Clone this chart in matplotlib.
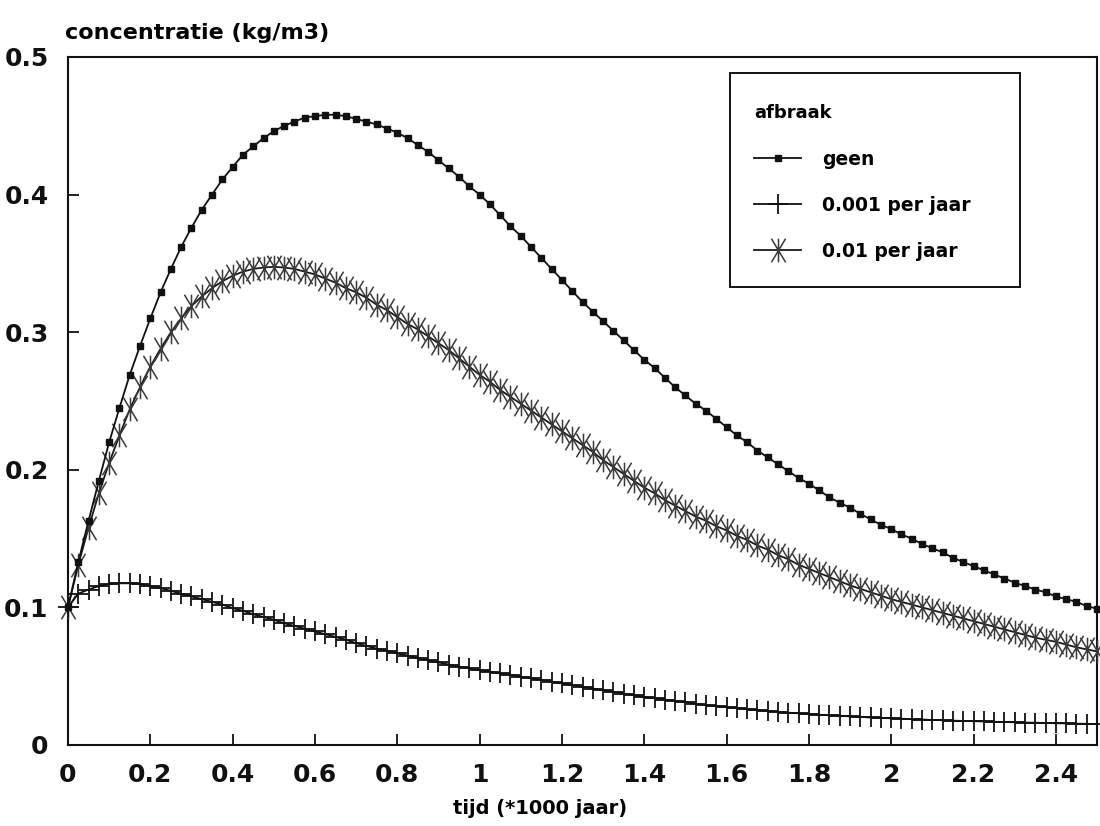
import numpy as np
import matplotlib
matplotlib.use("Agg")
import matplotlib.pyplot as plt
from matplotlib.path import Path
from matplotlib.patches import Rectangle

# tijd in 1000 jaar, stap 0.025
tijd = np.linspace(0, 2.5, 101)

geen = [0.100, 0.133, 0.163, 0.192, 0.220, 0.245, 0.269, 0.290, 0.310, 0.329,
        0.346, 0.362, 0.376, 0.389, 0.400, 0.411, 0.420, 0.429, 0.435, 0.441,
        0.446, 0.450, 0.453, 0.456, 0.457, 0.458, 0.458, 0.457, 0.455, 0.453,
        0.451, 0.448, 0.445, 0.441, 0.436, 0.431, 0.425, 0.419, 0.413, 0.406,
        0.400, 0.393, 0.385, 0.377, 0.370, 0.362, 0.354, 0.346, 0.338, 0.330,
        0.322, 0.315, 0.308, 0.301, 0.294, 0.287, 0.280, 0.274, 0.267, 0.260,
        0.254, 0.248, 0.243, 0.237, 0.231, 0.225, 0.220, 0.214, 0.209, 0.204,
        0.199, 0.194, 0.190, 0.185, 0.180, 0.176, 0.1725, 0.168, 0.164, 0.160,
        0.157, 0.153, 0.150, 0.146, 0.143, 0.140, 0.136, 0.133, 0.130, 0.127,
        0.124, 0.121, 0.118, 0.1155, 0.113, 0.111, 0.108, 0.106, 0.104, 0.101,
        0.099]

jaar_0001 = [0.100, 0.110, 0.113, 0.1155, 0.117, 0.1175, 0.1175, 0.117, 0.1155, 0.114,
             0.112, 0.110, 0.108, 0.106, 0.104, 0.102, 0.0995, 0.0975, 0.095, 0.093,
             0.091, 0.0885, 0.0865, 0.0845, 0.0825, 0.0805, 0.0785, 0.0765, 0.074, 0.072,
             0.070, 0.0685, 0.0665, 0.065, 0.063, 0.0615, 0.060, 0.0585, 0.057, 0.0557,
             0.0545, 0.0533, 0.052, 0.051, 0.0497, 0.0485, 0.0473, 0.046, 0.0448, 0.0435,
             0.0423, 0.041, 0.0398, 0.0386, 0.0374, 0.0362, 0.035, 0.034, 0.033, 0.032,
             0.031, 0.030, 0.029, 0.0282, 0.0274, 0.0267, 0.026, 0.0253, 0.0247, 0.0241,
             0.0235, 0.023, 0.0225, 0.022, 0.0216, 0.0212, 0.0208, 0.0204, 0.020, 0.0197,
             0.0194, 0.0191, 0.0188, 0.0185, 0.0182, 0.018, 0.0177, 0.0175, 0.0173, 0.0171,
             0.0169, 0.0167, 0.0165, 0.0163, 0.0162, 0.016, 0.0158, 0.0157, 0.0155, 0.0154,
             0.0152]

jaar_001 = [0.100, 0.131, 0.158, 0.183, 0.205, 0.225, 0.244, 0.260, 0.275, 0.288,
            0.300, 0.310, 0.319, 0.326, 0.332, 0.337, 0.341, 0.344, 0.346, 0.347,
            0.3475, 0.347, 0.346, 0.344, 0.342, 0.339, 0.336, 0.332, 0.329, 0.325,
            0.320, 0.316, 0.311, 0.306, 0.302, 0.297, 0.292, 0.287, 0.281, 0.275,
            0.269, 0.264, 0.258, 0.253, 0.248, 0.243, 0.238, 0.233, 0.228, 0.223,
            0.218, 0.213, 0.207, 0.202, 0.197, 0.192, 0.187, 0.183, 0.178, 0.174,
            0.170, 0.166, 0.163, 0.159, 0.156, 0.152, 0.149, 0.145, 0.142, 0.138,
            0.135, 0.131, 0.128, 0.125, 0.122, 0.119, 0.116, 0.1135, 0.111, 0.1085,
            0.106, 0.104, 0.102, 0.100, 0.098, 0.096, 0.094, 0.092, 0.090, 0.088,
            0.086, 0.084, 0.082, 0.080, 0.078, 0.0765, 0.075, 0.073, 0.071, 0.0695,
            0.068]

xticks = [0, 0.2, 0.4, 0.6, 0.8, 1.0, 1.2, 1.4, 1.6, 1.8, 2.0, 2.2, 2.4]
xlabels = ['0', '0.2', '0.4', '0.6', '0.8', '1', '1.2', '1.4', '1.6', '1.8', '2', '2.2', '2.4']
yticks = [0, 0.1, 0.2, 0.3, 0.4, 0.5]
ylabels = ['0', '0.1', '0.2', '0.3', '0.4', '0.5']

plt.rcParams['font.family'] = ['DejaVu Sans']
plt.rcParams['font.weight'] = 'bold'

fig = plt.figure(figsize=(11, 8.26), dpi=100)
ax = fig.add_axes([68/1100, 1-745/826, (1097-68)/1100, (745-57)/826])

# asterisk: vertical stroke plus two steep diagonals
ster = Path([(0, -1), (0, 1), (-0.6, -1), (0.6, 1), (-0.6, 1), (0.6, -1)],
            [Path.MOVETO, Path.LINETO] * 3)

ax.plot(tijd, jaar_001, color='#1a1a1a', lw=1.3, marker=ster, ms=17, mew=1.1,
        mec='#3a3a3a', label='0.01 per jaar', clip_on=False, zorder=3)
ax.plot(tijd, jaar_0001, color='#111111', lw=1.3, marker='+', ms=14, mew=1.3,
        label='0.001 per jaar', clip_on=False, zorder=3)
ax.plot(tijd, geen, color='#111111', lw=1.3, marker='s', ms=4.5,
        label='geen', clip_on=False, zorder=4)

ax.set_xlim(0, 2.5)
ax.set_ylim(0, 0.5)
ax.set_xticks(xticks)
ax.set_xticklabels(xlabels)
ax.set_yticks(yticks)
ax.set_yticklabels(ylabels)
ax.tick_params(direction='in', length=8, width=1.3, labelsize=18, colors='#111111')
ax.tick_params(axis='x', pad=13)
ax.tick_params(axis='y', pad=14)
for s in ax.spines.values():
    s.set_linewidth(1.5)
    s.set_color('#111111')

fig.text(65/1100, 1-33/826, 'concentratie (kg/m3)', fontsize=16, ha='left', va='center')
fig.text(540/1100, 1-808/826, 'tijd (*1000 jaar)', fontsize=14, ha='center', va='center')

# legend box
fig.add_artist(Rectangle((730/1100, 1-287/826), 290/1100, 214/826, fill=False,
                         edgecolor='#111111', lw=1.4, transform=fig.transFigure))
h, l = ax.get_legend_handles_labels()
ax.legend(h[::-1], l[::-1], loc='upper left', bbox_to_anchor=(745/1100, 1-95/826),
          bbox_transform=fig.transFigure, frameon=False, title='afbraak',
          alignment='left', fontsize=13.5, title_fontproperties={'weight': 'bold', 'size': 13},
          handlelength=2.5, handletextpad=1.1, labelspacing=1.45, borderpad=0)

fig.savefig('out.png', dpi=100)
